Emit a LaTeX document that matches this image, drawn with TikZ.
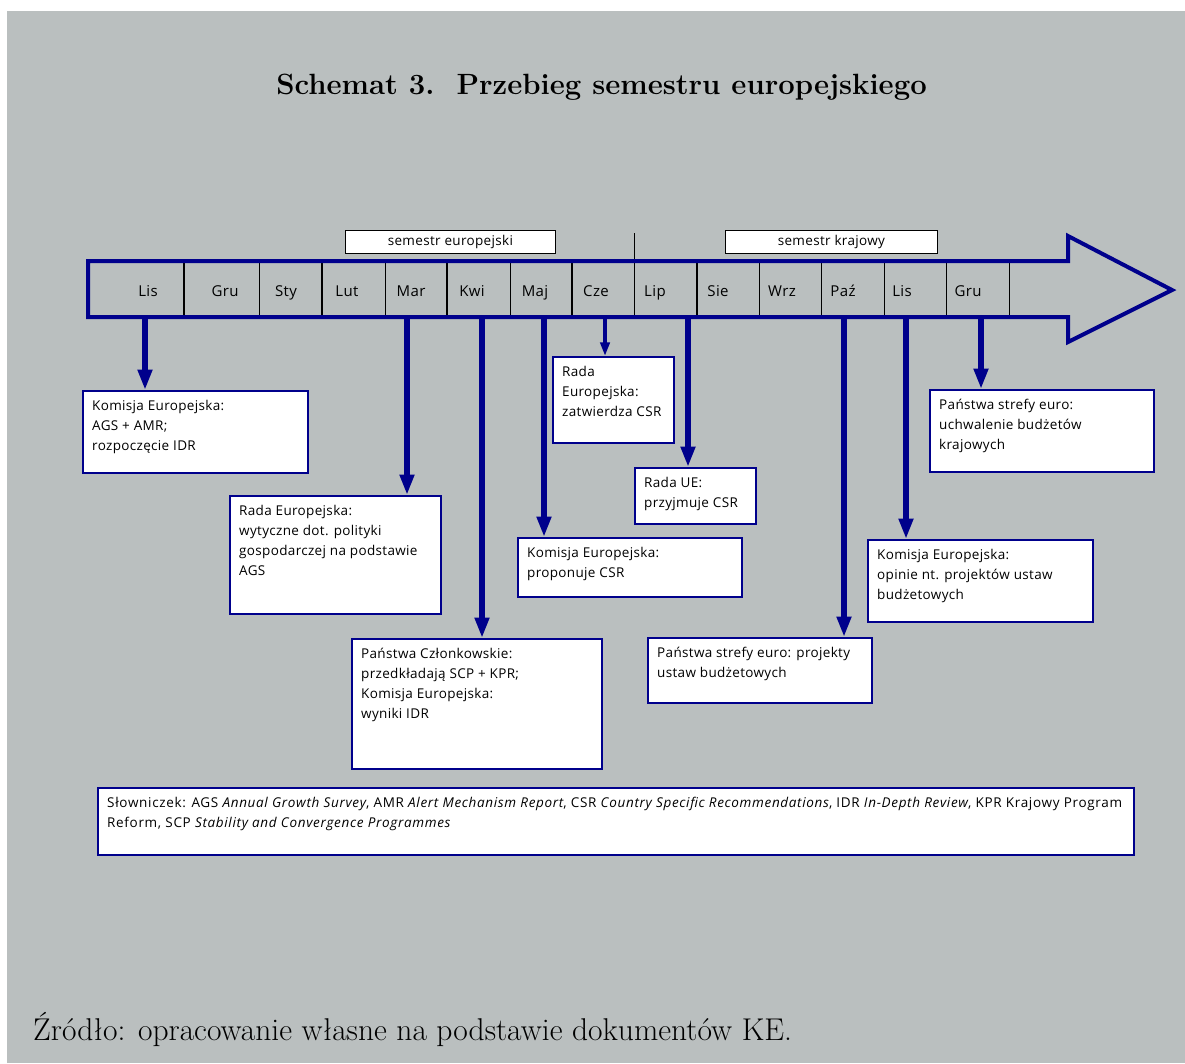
\documentclass[tikz,border=0pt]{standalone}
\usepackage{fontspec}
\setsansfont{Open Sans}[LetterSpace=2.5]
\usetikzlibrary{arrows.meta}
\definecolor{tlo}{RGB}{186,191,191}
\definecolor{granat}{RGB}{0,0,140}
\begin{document}
\begin{tikzpicture}[x=1pt,y=-1pt,
	miesiac/.style={anchor=base,font=\sffamily\fontsize{15}{18}\selectfont},
	semestr/.style={draw=black,line width=.8pt,fill=white,anchor=north west,inner sep=0pt,font=\sffamily\fontsize{13.5}{15}\selectfont},
	ramka/.style={draw=granat,line width=2pt,fill=white,anchor=north west,inner sep=0pt},
	opis/.style={anchor=north west,align=left,inner xsep=10pt,inner ysep=10pt,font=\sffamily\fontsize{13.5}{20}\selectfont},
	strzalka/.style={draw=granat,-{Triangle[length=0pt 3.4,width=0pt 2.3]}}]
	%
	\def\gora{261}
	\def\dol{317}
	\def\srodek{290}
	\useasboundingbox (0,0) rectangle (1185,1063);
	\fill[tlo] (7,11) rectangle (1185,1063);
	% title
	\node[anchor=base,font=\fontsize{29.3}{34}\selectfont\bfseries] (tytul) at (601.5,94) {Schemat 3.\ \ Przebieg semestru europejskiego};
	% semesters
	\node[semestr,minimum width=210pt,minimum height=23pt] (semEU) at (345,230) {semestr europejski};
	\node[semestr,minimum width=212pt,minimum height=23pt] (semPL) at (725,230) {semestr krajowy};
	\draw[line width=.6pt] (634,233) -- (634,\gora);
	% months
		\foreach \x/\g in {184/2,259/1,322/2,385/1,447/2,510/1,572/2,634/1,697/2,759/1,821/1,884/1,946/1,1009/1}
			\draw[line width=\g pt] (\x,\gora) -- (\x,\dol);
		\foreach \m/\x [count=\i] in {Lis/148,Gru/225,Sty/286,Lut/347,Mar/411,Kwi/472,Maj/535,Cze/596,Lip/655,Sie/718,Wrz/782,Paź/843,Lis/902,Gru/968}
			\node[miesiac] (mies\i) at (\x,296) {\m};
	% time arrow
	\draw[granat,line width=4pt,line join=miter] (88,\gora) -- (1068,\gora) -- (1068,236) -- (1172,\srodek) -- (1068,342) -- (1068,\dol) -- (88,\dol) -- cycle;
	% boxes and arrows
		\foreach \nazwa/\xx/\yy/\szer/\wys/\sx/\lw/\tekst in {%
			ke1/82/390/225/82/145/6/{Komisja Europejska:\\AGS + AMR;\\rozpoczęcie IDR},
			re1/229/495/211/118/407/6/{Rada Europejska:\\wytyczne dot. polityki\\gospodarczej na podstawie\\AGS},
			pc/351/638/250/130/482/6/{Państwa Członkowskie:\\przedkładają SCP + KPR;\\Komisja Europejska:\\wyniki IDR},
			ke2/517/537/224/59/544/6/{Komisja Europejska:\\proponuje CSR},
			re2/552/356/121/86/605/4/{Rada\\Europejska:\\zatwierdza CSR},
			rue/634/467/121/56/688/6/{Rada UE:\\przyjmuje CSR},
			pse1/647/637/224/65/844/6/{Państwa strefy euro: projekty\\ustaw budżetowych},
			ke3/867/539/225/82/906/6/{Komisja Europejska:\\opinie nt. projektów ustaw\\budżetowych},
			pse2/929/389/224/82/981/6/{Państwa strefy euro:\\uchwalenie budżetów\\krajowych}}
		{
			\node[ramka,minimum width=\szer pt,minimum height=\wys pt] (\nazwa) at (\xx,\yy) {};
			\node[opis] (\nazwa-txt) at (\nazwa.north west) {\tekst};
			\coordinate (\nazwa-s) at (\sx,\dol);
			\draw[strzalka,line width=\lw pt] (\nazwa-s) -- (\nazwa-s |- \nazwa.north);
		}
	% glossary
	\node[ramka,minimum width=1036pt,minimum height=67pt] (slownik) at (97,787) {};
	\node[opis,font=\sffamily\fontsize{13.5}{20}\selectfont\addfontfeatures{LetterSpace=5}] (slownik-txt) at (slownik.north west) {Słowniczek: AGS \textit{Annual Growth Survey}, AMR \textit{Alert Mechanism Report}, CSR \textit{Country Specific Recommendations}, IDR \textit{In-Depth Review}, KPR Krajowy Program\\Reform, SCP \textit{Stability and Convergence Programmes}};
	% source
	\node[anchor=base west,inner sep=0pt,font=\fontsize{31.5}{36}\selectfont] (zrodlo) at (33,1040) {Źródło: opracowanie własne na podstawie dokumentów KE.};
\end{tikzpicture}
\end{document}
